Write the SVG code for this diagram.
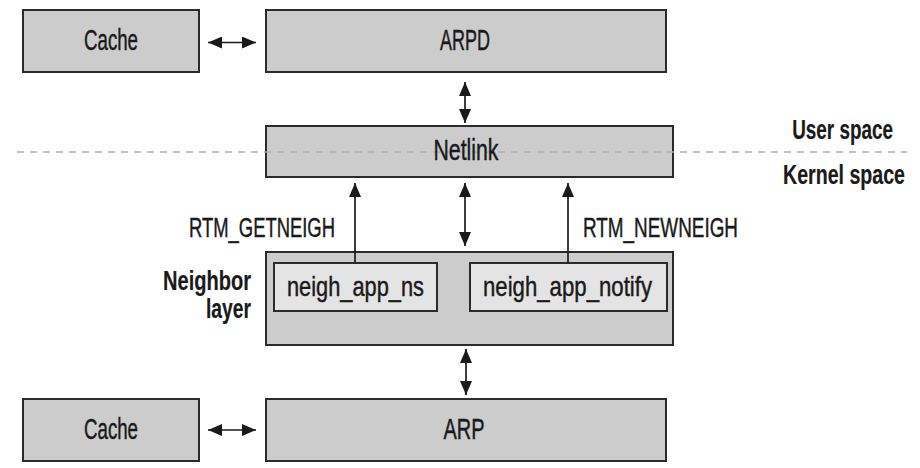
<svg xmlns="http://www.w3.org/2000/svg" width="920" height="468" viewBox="0 0 920 468">
<defs>
<style>
.box{fill:#cccccc;stroke:#2b2b2b;stroke-width:2}
.inner{fill:#e4e4e4;stroke:#2b2b2b;stroke-width:2}
text{font-family:"Liberation Sans Narrow","Liberation Sans",Arial,sans-serif;font-size:28px;fill:#1a1a1a;stroke:#1a1a1a;stroke-width:0.45}
.t{font-size:29px}
.c{text-anchor:middle}
.b{font-weight:bold;stroke-width:0.2}
.r{text-anchor:end}
.ln{stroke:#1a1a1a;stroke-width:1.7;fill:none}
.dash{stroke:#b0b0b0;stroke-width:1.5;stroke-dasharray:7 6;fill:none}
</style>
<marker id="ah" markerUnits="userSpaceOnUse" markerWidth="14" markerHeight="12" refX="14" refY="6" orient="auto-start-reverse" viewBox="0 0 14 12">
<path d="M0,0 L14,6 L0,12 Z" fill="#1a1a1a"/>
</marker>
</defs>

<g id="cache-top">
<rect class="box" x="23" y="10" width="176" height="62"/>
<text class="c t" x="111" y="50" textLength="54" lengthAdjust="spacingAndGlyphs">Cache</text>
</g>
<g id="arpd">
<rect class="box" x="266" y="10" width="400" height="62"/>
<text class="c t" x="465" y="50" textLength="50" lengthAdjust="spacingAndGlyphs">ARPD</text>
</g>
<g id="netlink">
<rect class="box" x="266" y="126" width="407" height="51"/>
</g>
<g id="divider">
<line class="dash" x1="17" y1="152" x2="907" y2="152"/>
<text class="r b" transform="translate(893,139) scale(0.82,1)" x="0" y="0" textLength="123" lengthAdjust="spacingAndGlyphs">User space</text>
<text class="r b" transform="translate(905,184) scale(0.75,1)" x="0" y="0" textLength="162.7" lengthAdjust="spacingAndGlyphs">Kernel space</text>
</g>
<g id="netlink-label">
<text class="c t" x="466" y="160" textLength="65" lengthAdjust="spacingAndGlyphs">Netlink</text>
</g>
<g id="neighbor-layer">
<rect class="box" x="266" y="252" width="407" height="93"/>
<text class="r b" x="251" y="290" textLength="88" lengthAdjust="spacingAndGlyphs">Neighbor</text>
<text class="r b" x="251" y="318" textLength="45" lengthAdjust="spacingAndGlyphs">layer</text>
</g>
<g id="neigh-app-ns">
<rect class="inner" x="274" y="263" width="163" height="48"/>
<text class="c" x="355.5" y="296" textLength="137" lengthAdjust="spacingAndGlyphs">neigh_app_ns</text>
</g>
<g id="neigh-app-notify">
<rect class="inner" x="470" y="263" width="197" height="48"/>
<text class="c" x="567.5" y="296" textLength="169" lengthAdjust="spacingAndGlyphs">neigh_app_notify</text>
</g>
<g id="cache-bottom">
<rect class="box" x="23" y="399" width="176" height="62"/>
<text class="c t" x="111" y="439" textLength="54" lengthAdjust="spacingAndGlyphs">Cache</text>
</g>
<g id="arp">
<rect class="box" x="266" y="399" width="400" height="62"/>
<text class="c t" x="464" y="439" textLength="41" lengthAdjust="spacingAndGlyphs">ARP</text>
</g>

<g id="connectors">
<line class="ln" x1="208" y1="42.5" x2="256" y2="42.5" marker-start="url(#ah)" marker-end="url(#ah)"/>
<line class="ln" x1="465" y1="82" x2="465" y2="123" marker-start="url(#ah)" marker-end="url(#ah)"/>
<line class="ln" x1="355" y1="263" x2="355" y2="183" marker-end="url(#ah)"/>
<line class="ln" x1="465" y1="183" x2="465" y2="246" marker-start="url(#ah)" marker-end="url(#ah)"/>
<line class="ln" x1="568" y1="263" x2="568" y2="183" marker-end="url(#ah)"/>
<line class="ln" x1="466" y1="349" x2="466" y2="395" marker-start="url(#ah)" marker-end="url(#ah)"/>
<line class="ln" x1="208" y1="430" x2="256" y2="430" marker-start="url(#ah)" marker-end="url(#ah)"/>
<text x="189" y="237" textLength="146" lengthAdjust="spacingAndGlyphs">RTM_GETNEIGH</text>
<text x="583" y="237" textLength="155" lengthAdjust="spacingAndGlyphs">RTM_NEWNEIGH</text>
</g>
</svg>
